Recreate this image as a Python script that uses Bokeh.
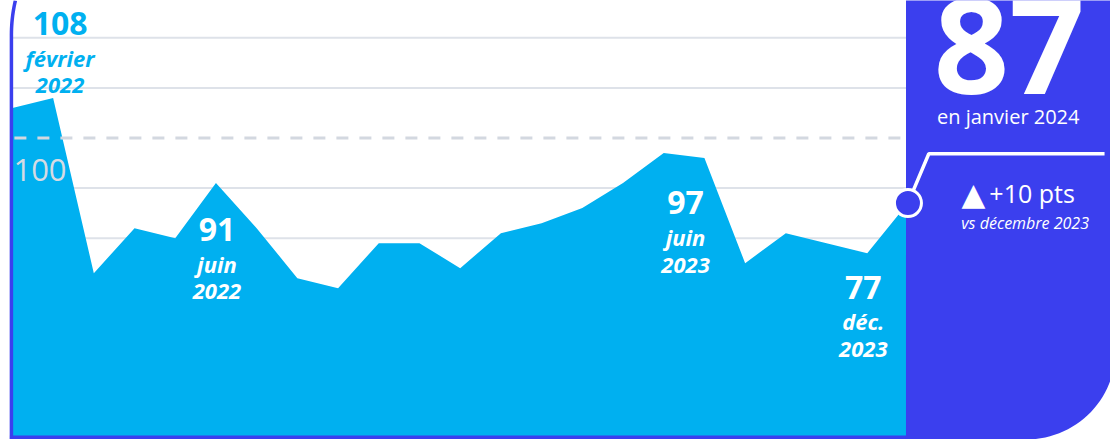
import numpy as np
from bokeh.plotting import figure
from bokeh.models import Range1d, Label
from bokeh.embed import file_html
from bokeh.resources import INLINE

# ---------------- data ----------------
months = ["janv. 2022", "févr. 2022", "mars 2022", "avr. 2022", "mai 2022", "juin 2022",
          "juil. 2022", "sept. 2022", "oct. 2022", "nov. 2022", "déc. 2022",
          "janv. 2023", "févr. 2023", "mars 2023", "avr. 2023", "mai 2023", "juin 2023",
          "juil. 2023", "sept. 2023", "oct. 2023", "nov. 2023", "déc. 2023", "janv. 2024"]
values = [106, 108, 73, 82, 80, 91, 82, 72, 70, 79, 79,
          74, 81, 83, 86, 91, 97, 96, 75, 81, 79, 77, 87]
grid_levels = [80, 90, 110, 120]
reference_level = 100
hl_index = [1, 5, 16, 21]
hl_month = ["février", "juin", "juin", "déc."]
hl_year = ["2022", "2022", "2023", "2023"]
current_label = "en janvier 2024"
compare_label = "vs décembre 2023"

# ---------------- styling ----------------
CYAN = "#00B0F0"
VIOLET = "#3B3FEE"
GRID = "#DEE2E9"
DASH = "#D3D8E0"
FONT = "Open Sans"

W, H = 1110, 439
REFW, REFH = 1118, 447
X0PX, DXPX = 12.0, 41.0
Y100PX, PXU = 140.0, 5.1
K = 0.31  # baseline compensation (em)


def X(px):
    return (px - X0PX) / DXPX


def Y(py):
    return reference_level - (py - Y100PX) / PXU


p = figure(width=W, height=H,
           x_range=Range1d(X(0), X(REFW)),
           y_range=Range1d(Y(REFH), Y(0)),
           x_axis_type=None, y_axis_type=None,
           toolbar_location=None, output_backend="svg",
           min_border=0, outline_line_color=None,
           background_fill_color="white", border_fill_color="white")
p.xgrid.visible = False
p.ygrid.visible = False

idx = np.arange(len(values))
x_end = X(912)


def label(xp, base, text, size, style="normal", color="white", align="center", font=FONT):
    p.add_layout(Label(x=X(xp), y=Y(base - K * size), text=text, text_align=align,
                       text_baseline="alphabetic", text_font=font,
                       text_font_size=f"{size}px", text_font_style=style,
                       text_color=color))


# grid lines (behind area)
p.segment(x0=[0] * len(grid_levels), x1=[x_end] * len(grid_levels),
          y0=grid_levels, y1=grid_levels, line_color=GRID, line_width=2)

# area
p.varea(x=idx, y1=Y(447), y2=values, fill_color=CYAN)

# reference dashed line over area
p.line(x=[X(14), x_end], y=[reference_level, reference_level],
       line_color=DASH, line_width=3, line_dash="12 11")
label(13, 182, str(reference_level), 31, color="#D6DBE3", align="left")

# frame: left border with rounded top, bottom border
R = 155.0
ys = np.linspace(0, 35, 12)
xs = 11 + R - np.sqrt(R ** 2 - (35 - ys) ** 2)
bx = list(xs) + [11, 11]
by = list(ys) + [35, 447]
p.line(x=[X(v) for v in bx], y=[Y(v) for v in by], line_color=VIOLET, line_width=3.5)
p.quad(left=X(9.5), right=X(930), bottom=Y(452), top=Y(443), fill_color=VIOLET, line_color=None)

# right panel with rounded bottom-right corner
cx, cy, rr = 1033.0, 357.0, 90.0
t = np.linspace(0, np.pi / 2, 30)
px_ = [912, 1123, 1123] + list(cx + rr * np.cos(t)) + [1033, 912]
py_ = [-10, -10, 357] + list(cy + rr * np.sin(t)) + [452, 452]
p.patch(x=[X(v) for v in px_], y=[Y(v) for v in py_], fill_color=VIOLET, line_color=None)

# connector + last point marker
last = len(values) - 1
p.line(x=[last, X(935), X(1112)], y=[values[last], Y(156), Y(156)],
       line_color="white", line_width=3.5)
p.scatter(x=[last], y=[values[last]], size=27, fill_color=VIOLET,
          line_color="white", line_width=3)

# highlight labels (px positions: centre x, baselines for value / month / year)
hl_pos = [(60, 33, 65, 93, CYAN),
          (218, 243, 275, 303, "white"),
          (690, 216, 248, 277, "white"),
          (869, 302, 333, 362, "white")]
for i, m, yr, (cxp, b1, b2, b3, col) in zip(hl_index, hl_month, hl_year, hl_pos):
    label(cxp, b1, str(values[i]), 32, "bold", col)
    label(cxp, b2, m, 22, "bold italic", col)
    label(cxp, b3, yr, 22, "bold italic", col)

# panel texts
label(1016, 88, str(values[last]), 132, "bold")
label(1015, 124, current_label, 20)
delta = values[last] - values[last - 1]
arrow = "▲" if delta >= 0 else "▼"
label(980, 207, arrow, 31, font="DejaVu Sans")
label(996, 204, f"{'+' if delta >= 0 else ''}{delta} pts", 25, align="left")
label(1032, 232, compare_label, 16, "italic")

open("out.html", "w").write(file_html(p, INLINE))
